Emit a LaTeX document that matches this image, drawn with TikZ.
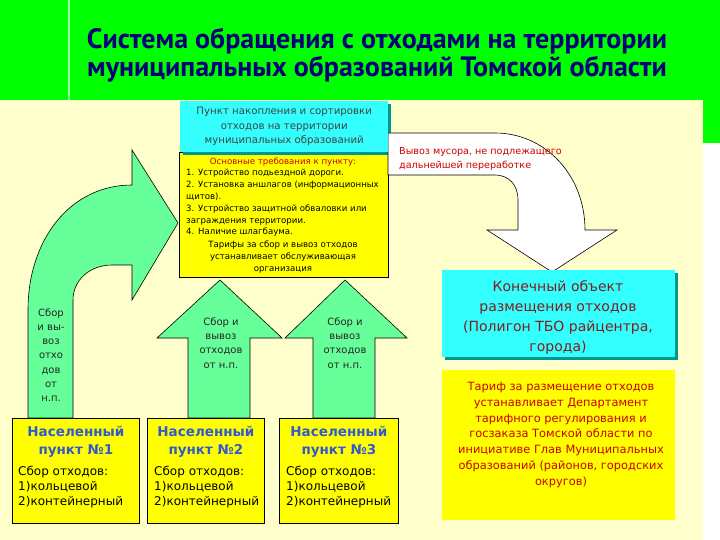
\documentclass[tikz,border=0pt]{standalone}
\usepackage{fontspec}
\setmainfont{DejaVu Sans}
\newfontfamily\titlefont{PT Sans}
\usetikzlibrary{positioning}

\definecolor{slidegreen}{RGB}{0,255,0}
\definecolor{cream}{RGB}{255,255,204}
\definecolor{boxcyan}{RGB}{51,255,255}
\definecolor{cyanshade}{RGB}{0,150,150}
\definecolor{boxyellow}{RGB}{255,255,0}
\definecolor{arrowgreen}{RGB}{102,255,153}
\definecolor{titleblue}{RGB}{0,0,120}
\definecolor{nameblue}{RGB}{51,90,204}
\definecolor{notered}{RGB}{204,0,0}
\definecolor{darkred}{RGB}{128,30,30}

\begin{document}
\begin{tikzpicture}[
    x=1pt, y=-1pt,
    titletext/.style={align=center, text=titleblue, inner sep=0pt, font=\titlefont\bfseries\fontsize{28}{28}\selectfont},
    cyanbox/.style={rectangle, anchor=north west, fill=boxcyan, inner sep=0pt, align=center},
    yellowbox/.style={rectangle, anchor=north west, fill=boxyellow, inner sep=0pt},
    reqtext/.style={inner sep=0pt, font=\fontsize{8.6}{11.8}\selectfont},
    townbox/.style={rectangle, anchor=north west, fill=boxyellow, draw=black, line width=0.8pt, minimum height=105pt, inner sep=0pt},
    townname/.style={anchor=north, align=center, inner sep=0pt, text=nameblue, font=\bfseries\fontsize{13.5}{18}\selectfont},
    towntext/.style={anchor=north west, align=left, inner sep=0pt, font=\fontsize{12}{15.2}\selectfont},
    greenarrow/.style={fill=arrowgreen, draw=black, line width=0.6pt, line join=miter},
    whitearrow/.style={fill=white, draw=black, line width=0.6pt},
    arrowtext/.style={align=center, inner sep=0pt, text=black!85, font=\fontsize{10}{14.2}\selectfont}
]
    \useasboundingbox (0,0) rectangle (720,540);
    % slide background
    \fill[slidegreen] (0,0) rectangle (720,100);
    \fill[cream] (0,100) rectangle (703,540);
    \fill[slidegreen] (703,100) rectangle (720,143);
    \fill[white] (703,143) rectangle (720,540);
    \draw[white!60!slidegreen, line width=1.5pt] (69,0) -- (69,100);

    \node[titletext] (title) at (377,55) {Система обращения с отходами на территории\\муниципальных образований Томской области};

    % collection point
    \node[yellowbox, draw=black, line width=0.6pt, minimum width=209pt, minimum height=125pt] (req) at (179,152) {};
    \fill[cyanshade] (183,104) rectangle (391,155);
    \draw[whitearrow] (388,133) -- (495,133) .. controls (545,133) and (585,175) .. (585,230)
        -- (617,230) -- (552,272) -- (487,230) -- (518,230) -- (518,200)
        .. controls (518,184) and (508,175) .. (495,175) -- (388,175) -- cycle;
    \node[cyanbox, minimum width=208pt, minimum height=51pt, text=black!75, font=\fontsize{10.2}{14.5}\selectfont] (point) at (180,101) {Пункт накопления и сортировки\\отходов на территории\\муниципальных образований};
    \node[reqtext, text=notered] (reqhead) at (283,162) {Основные требования к пункту:};
    \node[reqtext, anchor=west, align=left] (reqlist) at (186,203) {1. Устройство подьездной дороги.\\2. Установка аншлагов (информационных\\щитов).\\3. Устройство защитной обваловки или\\заграждения территории.\\4. Наличие шлагбаума.};
    \node[reqtext, align=center] (reqtariff) at (283,257) {Тарифы за сбор и вывоз отходов\\устанавливает обслуживающая\\организация};
    \node[anchor=west, align=left, inner sep=0pt, text=notered, font=\fontsize{9.6}{14.5}\selectfont] (dump) at (399,159) {Вывоз мусора, не подлежащего\\дальнейшей переработке};

    % collection arrows
    \draw[greenarrow] (28,418) -- (28,310) .. controls (28,240) and (70,185) .. (132,185)
        -- (132,150) -- (178,223) -- (132,300) -- (132,265) -- (112,265)
        .. controls (90,265) and (73,280) .. (73,300) -- (73,418) -- cycle;
    \draw[greenarrow] (188,418) -- (188,338) -- (157,338) -- (220,280) -- (282,338) -- (250,338) -- (250,418) -- cycle;
    \draw[greenarrow] (313,418) -- (313,338) -- (285,338) -- (345,280) -- (407,338) -- (375,338) -- (375,418) -- cycle;
    \node[arrowtext] (lefttext) at (51,355) {Сбор\\и вы-\\воз\\отхо\\дов\\от\\н.п.};
    \node[arrowtext] (midtext) at (221,343) {Сбор и\\вывоз\\отходов\\от н.п.};
    \node[arrowtext] (righttext) at (345,343) {Сбор и\\вывоз\\отходов\\от н.п.};

    % settlements
    \node[townbox, minimum width=127pt] (town1) at (12,418) {};
    \node[townbox, minimum width=117pt] (town2) at (147,418) {};
    \node[townbox, minimum width=119pt] (town3) at (279,418) {};
    \node[townname] (name1) at ([yshift=-8pt]town1.north) {Населенный\\пункт №1};
    \node[townname] (name2) at ([yshift=-8pt]town2.north) {Населенный\\пункт №2};
    \node[townname] (name3) at ([yshift=-8pt]town3.north) {Населенный\\пункт №3};
    \node[towntext] (text1) at ([xshift=6pt,yshift=-8pt]name1.south -| town1.west) {Сбор отходов:\\1)кольцевой\\2)контейнерный};
    \node[towntext] (text2) at ([xshift=7pt,yshift=-8pt]name2.south -| town2.west) {Сбор отходов:\\1)кольцевой\\2)контейнерный};
    \node[towntext] (text3) at ([xshift=7pt,yshift=-8pt]name3.south -| town3.west) {Сбор отходов:\\1)кольцевой\\2)контейнерный};

    % landfill
    \fill[cyanshade] (445,273) rectangle (678,360);
    \node[cyanbox, minimum width=233pt, minimum height=87pt] (landfill) at (442,270) {};
    \node[align=center, inner sep=0pt, text=darkred, font=\fontsize{14}{20}\selectfont] (landfilltext) at (558,318) {Конечный объект\\размещения отходов\\(Полигон ТБО райцентра,\\города)};
    \node[yellowbox, minimum width=233pt, minimum height=150pt] (tariffbox) at (442,370) {};
    \node[align=center, inner sep=0pt, text=notered, font=\fontsize{11.4}{15.8}\selectfont] (tariff) at (561,435) {Тариф за размещение отходов\\устанавливает Департамент\\тарифного регулирования и\\госзаказа Томской области по\\инициативе Глав Муниципальных\\образований (районов, городских\\округов)};
\end{tikzpicture}
\end{document}
